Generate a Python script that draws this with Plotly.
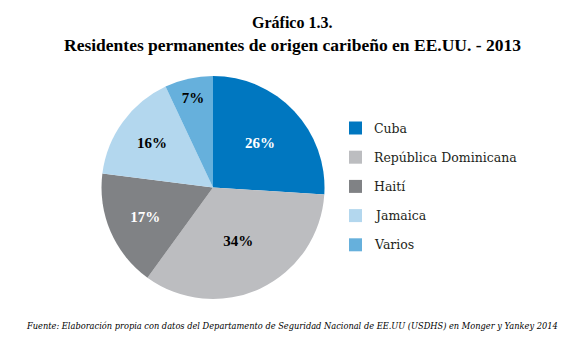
import plotly.graph_objects as go

categories = ["Cuba", "República Dominicana", "Haití", "Jamaica", "Varios"]
values = [26, 34, 17, 16, 7]
colors = ["#0077C0", "#BCBDC0", "#808285", "#B3D7EE", "#66B0DC"]
text_colors = ["white", "black", "white", "black", "black"]

W, H = 584, 346
SERIF = "Liberation Serif"
SERIF2 = "DejaVu Serif"

fig = go.Figure()
fig.add_trace(go.Pie(
    labels=categories, values=values, sort=False, direction="clockwise",
    rotation=0, marker=dict(colors=colors, line=dict(width=0)),
    texttemplate="<b>%{value}%</b>", textposition="inside",
    insidetextfont=dict(family=SERIF, size=15, color=text_colors),
    insidetextorientation="horizontal",
    domain=dict(x=[101 / W, 325 / W], y=[1 - 299 / H, 1 - 76 / H]),
    showlegend=False, hoverinfo="label+percent",
))

shapes = []
annotations = []
for i, (cat, col) in enumerate(zip(categories, colors)):
    yc = 128 + i * 29.2
    shapes.append(dict(type="rect", xref="paper", yref="paper",
                       x0=349 / W, x1=362 / W,
                       y0=1 - (yc + 6.5) / H, y1=1 - (yc - 6.5) / H,
                       fillcolor=col, line=dict(width=0)))
    annotations.append(dict(text=cat, xref="paper", yref="paper",
                            x=372 / W, y=1 - yc / H, xanchor="left", yanchor="middle",
                            showarrow=False, font=dict(family=SERIF2, size=12.5, color="#231F20")))

annotations.append(dict(text="<b>Gráfico 1.3.</b>", xref="paper", yref="paper",
                        x=0.5, y=1 - 22 / H, xanchor="center", yanchor="middle",
                        showarrow=False, font=dict(family=SERIF, size=16, color="black")))
annotations.append(dict(text="<b>Residentes permanentes de origen caribeño en EE.UU. - 2013</b>",
                        xref="paper", yref="paper",
                        x=0.5, y=1 - 45 / H, xanchor="center", yanchor="middle",
                        showarrow=False, font=dict(family=SERIF, size=17.5, color="black")))
annotations.append(dict(text="<i>Fuente: Elaboración propia con datos del Departamento de Seguridad Nacional de EE.UU (USDHS) en Monger y Yankey 2014</i>",
                        xref="paper", yref="paper",
                        x=0.5, y=1 - 326 / H, xanchor="center", yanchor="middle",
                        showarrow=False, font=dict(family=SERIF2, size=8.25, color="black")))

fig.update_layout(
    width=W, height=H, margin=dict(l=0, r=0, t=0, b=0),
    paper_bgcolor="white", plot_bgcolor="white",
    shapes=shapes, annotations=annotations, showlegend=False,
)
fig.write_html("out.html")
